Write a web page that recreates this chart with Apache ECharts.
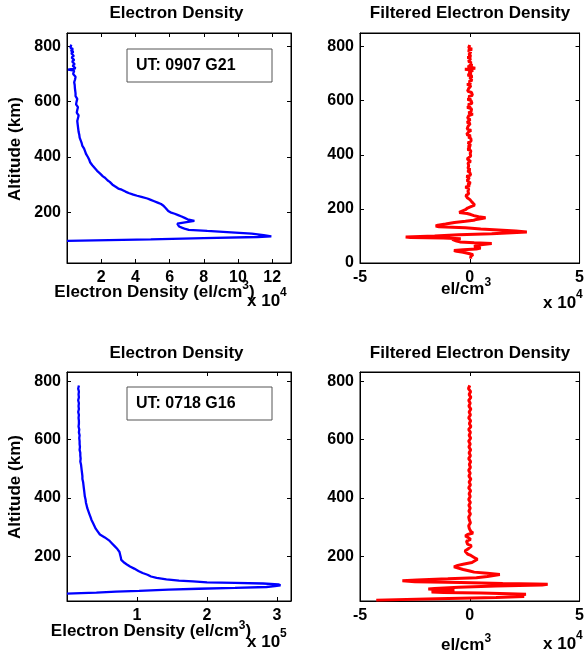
<!DOCTYPE html>
<html><head><meta charset="utf-8">
<script src="https://cdn.jsdelivr.net/npm/echarts@6/dist/echarts.min.js"></script>
<style>html,body{margin:0;padding:0;background:#fff}#c{width:587px;height:654px}</style>
</head><body><div id="c"></div>
<script>
// ---------- data: [altitude km, value] ----------
// Top-left: electron density (x 10^4 el/cm^3), UT 0907 G21
const profileTop = [[806,0.25],[800,0.32],[795,0.2],[790,0.35],[785,0.22],[780,0.38],[775,0.25],[770,0.3],[765,0.4],[760,0.27],[755,0.35],[750,0.42],[745,0.3],[740,0.38],[735,0.45],[730,0.33],[725,0.4],[720,0.5],[716,0.06],[712,0.42],[705,0.48],[700,0.36],[695,0.44],[690,0.5],[685,0.4],[680,0.47],[675,0.52],[670,0.42],[665,0.5],[660,0.45],[655,0.55],[650,0.46],[645,0.52],[640,0.48],[635,0.56],[630,0.5],[625,0.58],[620,0.5],[615,0.54],[610,0.6],[605,0.52],[600,0.56],[595,0.62],[590,0.53],[585,0.58],[580,0.64],[575,0.55],[570,0.6],[565,0.66],[560,0.57],[555,0.6],[550,0.68],[545,0.58],[540,0.64],[535,0.7],[530,0.6],[525,0.66],[520,0.62],[515,0.7],[510,0.64],[505,0.68],[500,0.66],[495,0.72],[490,0.68],[485,0.74],[480,0.72],[475,0.76],[470,0.74],[465,0.8],[460,0.8],[455,0.84],[450,0.86],[445,0.92],[440,0.9],[435,0.98],[430,1.0],[425,1.04],[420,1.06],[415,1.12],[410,1.12],[405,1.2],[400,1.22],[395,1.26],[390,1.3],[385,1.38],[380,1.36],[375,1.42],[370,1.48],[365,1.52],[360,1.62],[355,1.68],[350,1.76],[345,1.86],[340,1.94],[335,2.04],[330,2.1],[325,2.22],[320,2.3],[315,2.38],[310,2.5],[305,2.6],[300,2.66],[295,2.78],[290,2.86],[286,3.0],[282,3.2],[278,3.3],[275,3.42],[270,3.6],[264,3.88],[260,4.1],[256,4.35],[250,4.7],[245,4.9],[240,5.1],[235,5.3],[230,5.5],[225,5.62],[220,5.72],[215,5.78],[210,5.86],[205,5.92],[200,6.05],[195,6.3],[190,6.5],[185,6.7],[180,6.88],[175,7.05],[169,7.45],[164,6.9],[159,6.45],[154,6.5],[149,6.55],[144,6.75],[140,6.92],[137,7.12],[133,8.2],[128,9.6],[123,10.8],[118,11.5],[113,11.95],[111,11.15],[107,8.0],[102,4.9],[97,0.0]];

// Top-right: filtered electron density (x 10^4 el/cm^3)
const filteredTop = [[806,0.0],[800,0.08],[795,-0.05],[790,0.1],[785,-0.08],[780,0.05],[775,0.12],[770,-0.04],[765,0.06],[760,-0.1],[755,0.04],[750,0.1],[745,-0.06],[740,0.08],[735,-0.02],[730,0.12],[725,-0.1],[720,0.25],[716,-0.22],[712,0.15],[705,-0.05],[700,0.08],[695,-0.1],[690,0.12],[685,0.0],[680,-0.08],[675,0.1],[670,-0.04],[665,0.06],[660,-0.12],[655,0.05],[650,0.1],[645,-0.05],[640,0.04],[635,-0.1],[630,0.08],[625,0.0],[620,0.12],[615,-0.06],[610,0.05],[605,-0.1],[600,0.06],[595,0.0],[590,0.1],[585,-0.08],[580,0.04],[575,-0.12],[570,0.08],[565,0.0],[560,0.06],[555,-0.06],[550,0.14],[545,-0.04],[540,0.05],[535,-0.1],[530,0.02],[525,0.08],[520,-0.12],[515,0.02],[510,0.08],[505,-0.08],[500,0.0],[495,-0.12],[490,0.06],[485,-0.05],[480,0.02],[475,-0.14],[470,0.04],[465,-0.06],[460,0.05],[455,-0.02],[450,0.06],[445,-0.08],[440,0.0],[435,0.04],[430,-0.08],[425,0.02],[420,-0.1],[415,0.05],[410,-0.04],[405,0.02],[400,-0.06],[395,0.04],[390,-0.02],[385,-0.12],[380,-0.05],[375,0.04],[370,-0.08],[365,0.0],[360,-0.05],[355,0.03],[350,-0.08],[345,0.02],[340,-0.1],[335,0.0],[330,-0.05],[325,0.04],[320,-0.15],[315,-0.02],[310,0.02],[305,-0.12],[300,-0.05],[295,0.03],[290,-0.1],[285,0.0],[280,-0.2],[275,-0.05],[270,0.02],[265,-0.08],[260,-0.12],[255,-0.05],[250,-0.18],[245,-0.2],[240,-0.1],[235,0.0],[230,0.05],[225,0.1],[220,0.15],[214,0.22],[208,0.05],[203,-0.1],[197,-0.2],[192,-0.35],[187,-0.48],[183,-0.12],[179,0.05],[175,0.19],[171,0.4],[167,0.72],[164,0.55],[161,0.3],[158,0.18],[154,-0.2],[150,-0.7],[144,-1.1],[140,-1.45],[137,-1.55],[134,-1.4],[130,-0.2],[126,0.5],[122,1.3],[118,2.1],[115,2.6],[112,2.55],[108,1.0],[104,-0.5],[100,-1.6],[96,-2.92],[94,-2.7],[92,-1.2],[90,-0.41],[87,-0.8],[84,-0.88],[81,-0.6],[78,-0.45],[75,0.2],[72,1.0],[70,1.05],[67,0.5],[64,0.3],[61,0.2],[58,0.35],[55,0.5],[52,0.3],[49,-0.3],[46,-0.72],[43,-0.6],[40,-0.3],[37,-0.25],[34,0.0],[31,0.15],[28,0.2],[25,0.05],[22,0.12],[19,0.0],[16,0.04]];

// Bottom-left: electron density (x 10^5 el/cm^3), UT 0718 G16
const profileBottom = [[786,0.17],[775,0.16],[765,0.17],[755,0.165],[745,0.17],[735,0.16],[725,0.17],[715,0.165],[705,0.17],[695,0.16],[685,0.17],[675,0.165],[665,0.17],[655,0.17],[645,0.165],[635,0.175],[625,0.17],[615,0.18],[605,0.175],[595,0.18],[585,0.18],[575,0.185],[565,0.18],[555,0.19],[545,0.19],[535,0.195],[525,0.19],[515,0.2],[505,0.205],[495,0.21],[485,0.215],[475,0.22],[465,0.22],[455,0.23],[445,0.235],[435,0.24],[425,0.245],[415,0.25],[405,0.255],[395,0.265],[385,0.27],[375,0.28],[365,0.29],[355,0.305],[345,0.32],[335,0.335],[325,0.35],[315,0.37],[305,0.39],[295,0.41],[285,0.44],[275,0.47],[265,0.54],[255,0.6],[245,0.64],[235,0.68],[225,0.72],[215,0.75],[205,0.76],[195,0.77],[188,0.775],[183,0.79],[178,0.82],[173,0.85],[165,0.9],[158,0.96],[150,1.02],[143,1.08],[137,1.15],[131,1.2],[126,1.28],[121,1.42],[117,1.6],[114,1.8],[111,2.0],[109,2.4],[107,2.8],[104,3.02],[101,3.05],[98,2.97],[95,2.85],[92,2.4],[89,1.88],[86,1.45],[82,1.03],[79,0.7],[76,0.42],[74,0.2],[72,0.0]];

// Bottom-right: filtered electron density (x 10^4 el/cm^3)
const filteredBottom = [[786,0.0],[775,-0.06],[765,0.04],[755,-0.03],[745,0.05],[735,-0.05],[725,0.02],[715,-0.04],[705,0.05],[695,-0.03],[685,0.03],[675,-0.05],[665,0.04],[655,-0.02],[645,0.05],[635,-0.05],[625,0.03],[615,-0.03],[605,0.04],[595,-0.05],[585,0.02],[575,-0.04],[565,0.04],[555,-0.03],[545,0.03],[535,-0.05],[525,0.04],[515,-0.02],[505,0.03],[495,-0.05],[485,0.02],[475,-0.04],[465,0.05],[455,-0.03],[445,0.03],[435,-0.05],[425,0.04],[415,-0.03],[405,0.02],[395,-0.05],[385,0.03],[375,-0.04],[365,0.02],[355,-0.04],[345,0.03],[335,-0.05],[325,-0.02],[315,0.03],[305,-0.05],[295,-0.02],[285,0.05],[280,0.15],[275,-0.1],[270,-0.2],[265,-0.08],[258,0.04],[252,-0.15],[247,-0.22],[242,-0.1],[236,0.08],[230,0.05],[224,-0.1],[218,-0.22],[213,-0.28],[208,-0.1],[203,0.05],[196,0.2],[190,0.35],[184,0.35],[179,0.1],[174,-0.25],[169,-0.55],[164,-0.72],[160,-0.65],[155,-0.3],[150,0.0],[146,0.2],[142,0.8],[138,1.37],[135,1.3],[131,0.8],[127,0.3],[123,-1.0],[119,-2.4],[116,-3.07],[113,-2.5],[110,-0.41],[107,1.5],[105,3.0],[104,3.55],[102,3.3],[98,1.2],[94,-0.5],[90,-1.6],[88,-1.89],[86,-1.5],[84,-0.7],[82,-0.9],[80,-1.6],[78,-1.74],[76,-1.2],[74,0.5],[72,1.8],[70,2.56],[67,2.2],[64,2.0],[62,2.48],[59,1.2],[55,-1.5],[50,-4.26]];

// tick labels
const ticksXTopLeft = [2,4,6,8,10,12];
const ticksXBottomLeft = [1,2,3];
const ticksXFiltered = [-5,0,5];
const ticksYTopLeft = [200,400,600,800];
const ticksYTopRight = [0,200,400,600,800];
const ticksYBottom = [200,400,600,800];

// ---------- chart ----------
const FONT = '"Liberation Sans", Arial, Helvetica, sans-serif';
const chart = echarts.init(document.getElementById('c'), null, {renderer:'canvas'});

const grids = [
  {left:67, top:33, width:224, height:230},
  {left:360, top:33, width:225, height:230},
  {left:67, top:372, width:224, height:229},
  {left:360, top:372, width:225, height:229}
];

function axisPair(kind, gi, min, max, ticks) {
  const base = {
    type:'value', gridIndex:gi, min:min, max:max,
    axisLine:{show:true, onZero:false, lineStyle:{color:'#000', width:1}},
    axisTick:{show:true, inside:true, length:4, customValues:ticks, lineStyle:{color:'#000', width:1}},
    splitLine:{show:false}
  };
  const main = Object.assign({}, base, {
    position: kind === 'x' ? 'bottom' : 'left',
    axisLabel:{show:true, customValues:ticks, margin:kind === 'x' ? 7 : 6, color:'#000', fontFamily:FONT, fontWeight:'bold', fontSize:16}
  });
  const mirror = Object.assign({}, base, {
    position: kind === 'x' ? 'top' : 'right',
    axisLabel:{show:false}
  });
  return [main, mirror];
}

const xAxes = [].concat(
  axisPair('x', 0, 0, 13.1, ticksXTopLeft),
  axisPair('x', 1, -5, 5, ticksXFiltered),
  axisPair('x', 2, 0, 3.2, ticksXBottomLeft),
  axisPair('x', 3, -5, 5, ticksXFiltered)
);
const yAxes = [].concat(
  axisPair('y', 0, 17, 848, ticksYTopLeft),
  axisPair('y', 1, 0, 850, ticksYTopRight),
  axisPair('y', 2, 47, 832, ticksYBottom),
  axisPair('y', 3, 47, 832, ticksYBottom)
);

function mk(gi, arr, color, w) {
  return {
    type:'line', xAxisIndex:gi*2, yAxisIndex:gi*2,
    data: arr.map(p => [p[1], p[0]]),
    showSymbol:false, symbol:'none', clip:true, animation:false,
    lineStyle:{color:color, width:w}
  };
}

const richMain = {fontSize:17, fontWeight:'bold', fontFamily:FONT, fill:'#000', lineHeight:24};
const richSup = {fontSize:12, fontWeight:'bold', fontFamily:FONT, fill:'#000', lineHeight:12, verticalAlign:'top'};
const richMain2 = Object.assign({}, richMain, {lineHeight:28});

function txt(x, y, text, size, opts) {
  return Object.assign({
    type:'text', x:x, y:y, z:100,
    style:{text:text, fill:'#000', fontSize:size, fontWeight:'bold', fontFamily:FONT, align:'center', verticalAlign:'middle'}
  }, opts || {});
}
function rich(x, y, text, align, lh) {
  return {type:'text', x:x, y:y, z:100,
    style:{text:text, align:align, verticalAlign:'middle', rich:{a: lh ? richMain2 : richMain, s:richSup}}};
}

const graphics = [
  txt(176.5, 13.5, 'Electron Density', 17),
  txt(470, 13.5, 'Filtered Electron Density', 17),
  txt(176.5, 353.5, 'Electron Density', 17),
  txt(470, 353.5, 'Filtered Electron Density', 17),
  txt(15.5, 149, 'Altitude (km)', 17, {rotation:Math.PI/2}),
  txt(15.5, 487, 'Altitude (km)', 17, {rotation:Math.PI/2}),
  rich(154.5, 292, '{a|Electron Density (el/cm}{s|3}{a|)}', 'center'),
  rich(247, 301, '{a|x 10}{s|4}', 'left', true),
  rich(466, 289, '{a|el/cm}{s|3}', 'center'),
  rich(543, 303, '{a|x 10}{s|4}', 'left', true),
  rich(151, 631.5, '{a|Electron Density (el/cm}{s|3}{a|)}', 'center'),
  rich(247, 642, '{a|x 10}{s|5}', 'left', true),
  rich(466, 645, '{a|el/cm}{s|3}', 'center'),
  rich(543, 644, '{a|x 10}{s|4}', 'left', true),
  {type:'rect', z:90, shape:{x:127, y:49, width:145, height:33}, style:{fill:'#fff', stroke:'#555', lineWidth:1}},
  txt(136, 65.5, 'UT: 0907 G21', 16, {style:{text:'UT: 0907 G21', fill:'#000', fontSize:16, fontWeight:'bold', fontFamily:FONT, align:'left', verticalAlign:'middle'}}),
  {type:'rect', z:90, shape:{x:127, y:387, width:145, height:33}, style:{fill:'#fff', stroke:'#555', lineWidth:1}},
  txt(136, 403.5, 'UT: 0718 G16', 16, {style:{text:'UT: 0718 G16', fill:'#000', fontSize:16, fontWeight:'bold', fontFamily:FONT, align:'left', verticalAlign:'middle'}})
];

chart.setOption({
  animation:false,
  backgroundColor:'#fff',
  grid: grids.map(g => Object.assign({show:true, borderColor:'#000', borderWidth:1, backgroundColor:'#fff', containLabel:false}, g)),
  xAxis: xAxes,
  yAxis: yAxes,
  series: [
    mk(0, profileTop, '#0000ff', 2.3),
    mk(1, filteredTop, '#ff0000', 3),
    mk(2, profileBottom, '#0000ff', 2.3),
    mk(3, filteredBottom, '#ff0000', 3)
  ],
  graphic: graphics
});
</script>
</body></html>
